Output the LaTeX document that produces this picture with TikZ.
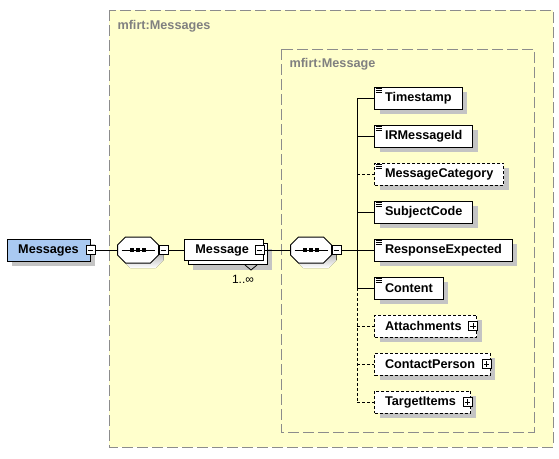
\documentclass[tikz,border=0pt]{standalone}
\usepackage{fontspec}
\setmainfont{Liberation Sans}
\usetikzlibrary{shadows,calc}
\definecolor{bgyellow}{HTML}{FFFFCC}
\definecolor{framegray}{HTML}{8C8C8C}
\definecolor{lblgray}{HTML}{808080}
\definecolor{shade}{HTML}{C4C4C4}
\definecolor{selblue}{HTML}{A9C9F1}
\newcommand{\octpath}[2]{($(#1.north west)+(8+#2,#2)$) -- ($(#1.north east)+(-8+#2,#2)$) -- ($(#1.east)+(#2,-5+#2)$) -- ($(#1.east)+(#2,5+#2)$) -- ($(#1.south east)+(-8+#2,#2)$) -- ($(#1.south west)+(8+#2,#2)$) -- ($(#1.west)+(#2,5+#2)$) -- ($(#1.west)+(#2,-5+#2)$) -- cycle}
\newcommand{\seqoct}[1]{%
  \fill[shade] \octpath{#1}{5};
  \draw[fill=white] \octpath{#1}{0};
  \draw ($(#1.west)+(4,0)$) -- ($(#1.east)+(-4,0)$);
  \fill ($(#1.center)+(-8,-2)$) rectangle ++(4,4);
  \fill ($(#1.center)+(-2,-2)$) rectangle ++(4,4);
  \fill ($(#1.center)+(4,-2)$) rectangle ++(4,4);}
\newcommand{\docicon}[1]{%
  \foreach \dy in {1.2pt,2.7pt,4.2pt}
    \draw[line width=0.6pt] ([xshift=1.2pt,yshift=-\dy]#1.north west) -- ++(4.5pt,0pt);}
\begin{document}
\begin{tikzpicture}[x=0.75pt,y=-0.75pt, line width=0.75pt,
  font=\fontsize{9.5}{11}\selectfont\bfseries,
  shd/.style={general shadow={shadow xshift=3.75pt, shadow yshift=-3.75pt, fill=shade}},
  elem/.style={draw, fill=white, shd, rectangle, minimum height=16.5pt, inner ysep=0pt, inner xsep=7.875pt, anchor=west},
  opt/.style={dash pattern=on 2.25pt off 1.5pt},
  seqnode/.style={rectangle, minimum width=30pt, minimum height=18.75pt, inner sep=0pt},
  pmbox/.style={draw, fill=white, minimum size=6.75pt, inner sep=0pt, line width=0.6pt},
  minusbox/.style={pmbox, path picture={\draw[line width=0.6pt] ([xshift=1.3pt]path picture bounding box.west) -- ([xshift=-1.3pt]path picture bounding box.east);}},
  plusbox/.style={pmbox, path picture={\draw[line width=0.6pt] ([xshift=1.3pt]path picture bounding box.west) -- ([xshift=-1.3pt]path picture bounding box.east); \draw[line width=0.6pt] ([yshift=-1.3pt]path picture bounding box.north) -- ([yshift=1.3pt]path picture bounding box.south);}},
  framebox/.style={draw=framegray, fill=bgyellow, dash pattern=on 8.25pt off 3pt, line width=0.75pt},
  framelabel/.style={anchor=west, text=lblgray, inner sep=0pt}
]
\useasboundingbox (0,0) rectangle (559,458);
% frames
\path[framebox] (109,10) rectangle (553,447);
\node[framelabel] (outerlbl) at (117,26) {mfirt:Messages};
\path[framebox] (281,49) rectangle (534,432);
\node[framelabel] (innerlbl) at (289,64) {mfirt:Message};

% root element
\node[elem, fill=selblue, minimum width=62.25pt, anchor=center] (root) at (48.5,250) {Messages};
\node[minusbox] (rm) at (root.east) {};

% first sequence
\node[seqnode] (seq1) at (138,250) {};
\seqoct{seq1}
\node[minusbox, anchor=west] (sm1) at (seq1.east) {};

% Message (multiple)
\node[draw, fill=white, shd, minimum width=59.25pt, minimum height=15.75pt, inner sep=0pt] (msgback) at (227.5,254) {};
\node[draw, fill=white, minimum width=59.25pt, minimum height=15.75pt, inner sep=0pt] (msg) at (223.5,250) {Message\hspace*{2pt}};
\node[minusbox] (msgm) at ([xshift=-3pt]msg.east) {};
\draw[line width=0.6pt] ($(msgback.south)+(17.5,0)$) -- ++(6,5) -- ++(6,-5);
\node[font=\fontsize{9}{10}\selectfont, inner sep=0pt] (mult) at (243,279) {1..∞};

% second sequence
\node[seqnode] (seq2) at (311,250) {};
\seqoct{seq2}
\node[minusbox, anchor=west] (sm2) at (seq2.east) {};

% children
\coordinate (trunk) at (357,250);
\node[elem] (c1) at (374,98) {Timestamp};
\node[elem] (c2) at (374,136) {IRMessageId};
\node[elem, opt] (c3) at (374,174) {MessageCategory};
\node[elem] (c4) at (374,212) {SubjectCode};
\node[elem] (c5) at (374,250) {ResponseExpected};
\node[elem] (c6) at (374,288) {Content};
\node[elem, opt] (c7) at (374,326) {Attachments\hspace*{3.4pt}};
\node[plusbox] (p7) at ([xshift=-3pt]c7.east) {};
\node[elem, opt] (c8) at (374,364) {ContactPerson\hspace*{3.4pt}};
\node[plusbox] (p8) at ([xshift=-3pt]c8.east) {};
\node[elem, opt] (c9) at (374,402) {TargetItems\hspace*{3.4pt}};
\node[plusbox] (p9) at ([xshift=-3pt]c9.east) {};
\docicon{c1}\docicon{c2}\docicon{c3}\docicon{c4}\docicon{c5}\docicon{c6}

% connectors
\draw (rm.east) -- (seq1.west);
\draw (sm1.east) -- (msg.west);
\draw (msgm.east) -- (seq2.west);
\draw (sm2.east) -- (c5.west);
\draw (c1.west -| trunk) -- (c6.west -| trunk);
\draw[opt] (c6.west -| trunk) -- (c9.west -| trunk);
\draw (c1.west -| trunk) -- (c1.west);
\draw (c2.west -| trunk) -- (c2.west);
\draw[opt] (c3.west -| trunk) -- (c3.west);
\draw (c4.west -| trunk) -- (c4.west);
\draw (c6.west -| trunk) -- (c6.west);
\draw[opt] (c7.west -| trunk) -- (c7.west);
\draw[opt] (c8.west -| trunk) -- (c8.west);
\draw[opt] (c9.west -| trunk) -- (c9.west);
\end{tikzpicture}
\end{document}
